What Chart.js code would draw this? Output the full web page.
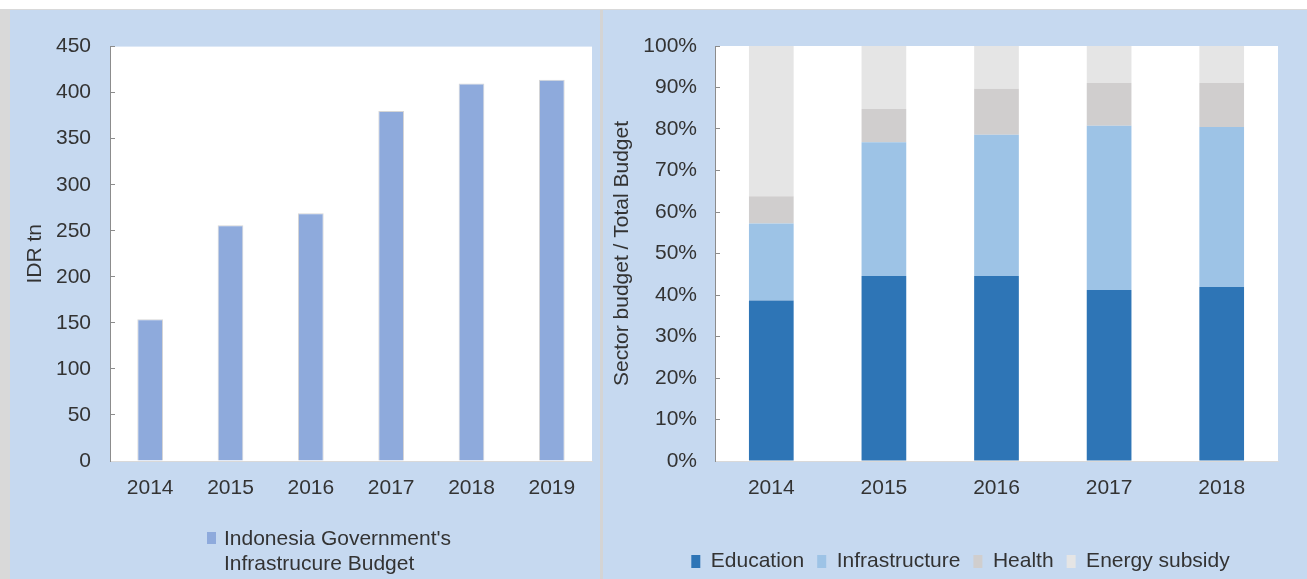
<!DOCTYPE html>
<html>
<head>
<meta charset="utf-8">
<script src="https://cdn.jsdelivr.net/npm/chart.js@4/dist/chart.umd.min.js"></script>
<style>
  html, body { margin: 0; padding: 0; background: #ffffff; }
  #page { position: relative; width: 1307px; height: 579px; overflow: hidden; font-family: "Liberation Sans", Arial, sans-serif; }
  .frame { position: absolute; background: #d9d9d9; }
  .panel { position: absolute; background: #c6d9f0; }
  #budgetLegend { position: absolute; left: 207px; top: 525px; color: #333; font-size: 21px; line-height: 25px; }
  #budgetLegend .box { position: absolute; left: 0; top: 7px; width: 9px; height: 12px; background: #8eaadc; }
  #budgetLegend .txt { position: absolute; left: 17px; top: 0; white-space: nowrap; }
</style>
</head>
<body>
<div id="page">
  <div class="frame" style="left:0;top:9px;width:1307px;height:1px"></div>
  <div class="frame" style="left:0;top:9px;width:10px;height:570px"></div>
  <div class="panel" style="left:10px;top:10px;width:590px;height:569px">
    <canvas id="budgetChart" width="590" height="569"></canvas>
  </div>
  <div class="frame" style="left:600px;top:10px;width:3px;height:569px;background:#d4d4d4"></div>
  <div class="panel" style="left:603px;top:10px;width:704px;height:569px">
    <canvas id="shareChart" width="704" height="569"></canvas>
  </div>
  <div id="budgetLegend"><div class="box"></div><div class="txt"></div></div>
</div>
<script>
// left chart: infrastructure budget, IDR tn
const budgetYears = ['2014', '2015', '2016', '2017', '2018', '2019'];
const budgetValues = [154, 256, 269, 380, 410, 414];
const budgetLabel = ["Indonesia Government's", 'Infrastrucure Budget'];

// right chart: sector share of total budget, %
const shareYears = ['2014', '2015', '2016', '2017', '2018'];
const education = [38.7, 44.6, 44.6, 41.2, 41.9];
const infrastructure = [18.5, 32.2, 34.0, 39.6, 38.6];
const health = [6.6, 8.0, 11.1, 10.3, 10.6];
const energySubsidy = [36.2, 15.2, 10.3, 8.9, 8.9];
const sectorNames = ['Education', 'Infrastructure', 'Health', 'Energy subsidy'];

const textColor = '#333333';
Chart.defaults.font.family = '"Liberation Sans", Arial, sans-serif';
Chart.defaults.font.size = 21;
Chart.defaults.color = textColor;

// white plot area on the blue panel
const whitePlot = {
  id: 'whitePlot',
  beforeDraw(chart) {
    const a = chart.chartArea;
    chart.ctx.save();
    chart.ctx.fillStyle = '#ffffff';
    chart.ctx.fillRect(a.left, a.top, a.right - a.left, a.bottom - a.top);
    chart.ctx.restore();
  }
};

// legend sits centred on the whole panel, not on the padded box
const legendShift = {
  id: 'legendShift',
  afterLayout(chart) {
    chart.legend.left += 20;
    chart.legend.right += 20;
  }
};

document.querySelector('#budgetLegend .txt').innerHTML = budgetLabel.join('<br>');

const budgetChart = new Chart(document.getElementById('budgetChart'), {
  type: 'bar',
  data: {
    labels: budgetYears,
    datasets: [{
      label: budgetLabel.join(' '),
      data: budgetValues,
      backgroundColor: '#8eaadc',
      borderColor: '#d6d6d6',
      borderWidth: 1,
      categoryPercentage: 1,
      barPercentage: 0.32
    }]
  },
  options: {
    responsive: false,
    animation: false,
    layout: { padding: { top: 36, right: 8, bottom: 0, left: 0 } },
    plugins: { legend: { display: false }, tooltip: { enabled: false } },
    scales: {
      x: {
        grid: { drawOnChartArea: false, drawTicks: false },
        border: { color: '#d9d9d9', width: 1 },
        ticks: { padding: 15, color: textColor },
        afterFit: (s) => { s.height = 118; }
      },
      y: {
        min: 0, max: 450,
        ticks: { stepSize: 50, padding: 24, color: textColor },
        grid: { drawOnChartArea: false, tickLength: -5, color: '#8c8c8c' },
        border: { color: '#8c8c8c', width: 1 },
        title: { display: true, text: 'IDR tn', color: textColor, padding: { top: 13, bottom: 0 } },
        afterFit: (s) => { s.width = 100; }
      }
    }
  },
  plugins: [whitePlot]
});

const sectorColors = ['#2e75b6', '#9dc3e6', '#d0cece', '#e5e5e5'];
const sectorData = [education, infrastructure, health, energySubsidy];
const legendPadBottom = -3;

const shareChart = new Chart(document.getElementById('shareChart'), {
  type: 'bar',
  data: {
    labels: shareYears,
    datasets: sectorNames.map((name, i) => ({
      label: name,
      data: sectorData[i],
      backgroundColor: sectorColors[i],
      borderWidth: 0,
      categoryPercentage: 1,
      barPercentage: 0.397
    }))
  },
  options: {
    responsive: false,
    animation: false,
    layout: { padding: { top: 36, right: 29, bottom: legendPadBottom, left: 0 } },
    plugins: {
      tooltip: { enabled: false },
      legend: {
        position: 'bottom',
        labels: { boxWidth: 9, boxHeight: 13, padding: 13, color: textColor, font: { size: 21 } }
      }
    },
    scales: {
      x: {
        stacked: true,
        grid: { drawOnChartArea: false, drawTicks: false },
        border: { color: '#d9d9d9', width: 1 },
        ticks: { padding: 15, color: textColor },
        afterFit: (s) => { s.height = 118 - legendPadBottom - s.chart.legend.height; }
      },
      y: {
        stacked: true,
        min: 0, max: 100,
        ticks: { stepSize: 10, padding: 23, color: textColor, callback: (v) => v + '%' },
        grid: { drawOnChartArea: false, tickLength: -5, color: '#8c8c8c' },
        border: { color: '#8c8c8c', width: 1 },
        title: { display: true, text: 'Sector budget / Total Budget', color: textColor, padding: { top: 7, bottom: 0 } },
        afterFit: (s) => { s.width = 112; }
      }
    }
  },
  plugins: [whitePlot, legendShift]
});
</script>
</body>
</html>
